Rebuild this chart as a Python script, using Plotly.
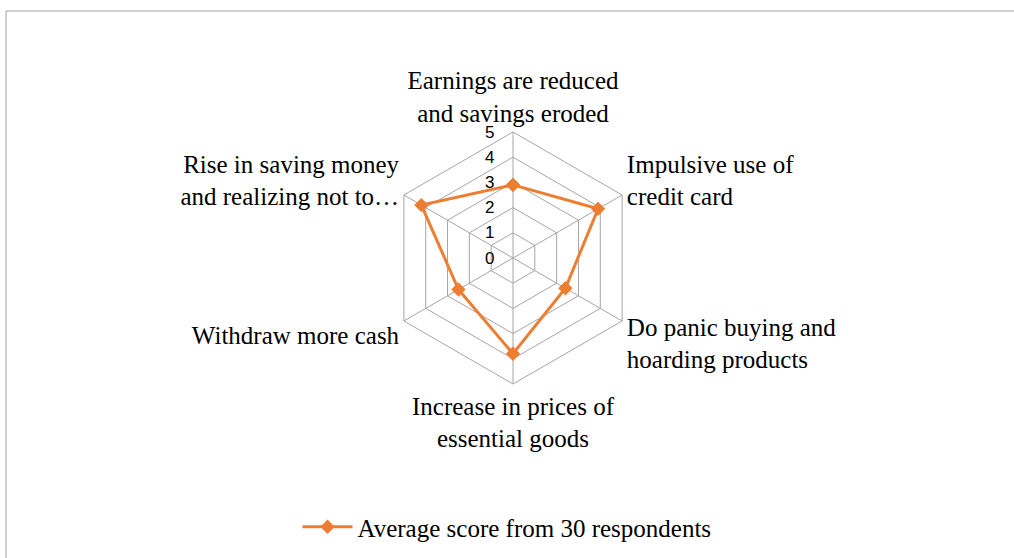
import plotly.graph_objects as go

categories = [
    "Earnings are reduced<br>and savings eroded",
    "Impulsive use of<br>credit card",
    "Do panic buying and<br>hoarding products",
    "Increase in prices of<br>essential goods",
    "Withdraw more cash",
    "Rise in saving money<br>and realizing not to…",
]
values = [2.9, 3.9, 2.4, 3.8, 2.5, 4.2]
series_name = "Average score from 30 respondents"
radial_ticks = [0, 1, 2, 3, 4, 5]

W, H = 1014, 558
cx, cy, R = 513, 258, 126

fig = go.Figure()
fig.add_trace(go.Scatterpolar(
    r=values + values[:1],
    theta=categories + categories[:1],
    mode="lines+markers",
    name=series_name,
    line=dict(color="#ED7D31", width=3),
    marker=dict(symbol="diamond", size=11, color="#ED7D31"),
))

fig.update_layout(
    width=W, height=H,
    margin=dict(l=0, r=0, t=0, b=0, autoexpand=False),
    paper_bgcolor="white",
    plot_bgcolor="white",
    showlegend=True,
    legend=dict(
        orientation="h", x=0.5, xanchor="center", y=1 - 527 / H, yanchor="middle",
        itemwidth=50,
        font=dict(family="Liberation Serif", size=25, color="black"),
    ),
    polar=dict(
        domain=dict(x=[(cx - R) / W, (cx + R) / W], y=[(H - cy - R) / H, (H - cy + R) / H]),
        gridshape="linear",
        bgcolor="white",
        angularaxis=dict(
            direction="clockwise", rotation=90,
            showline=True, linecolor="#a6a6a6", linewidth=1,
            gridcolor="#a6a6a6", gridwidth=1,
            ticks="",
            tickfont=dict(family="Liberation Serif", size=25, color="black"),
        ),
        radialaxis=dict(
            range=[0, 5], tickvals=radial_ticks, angle=90, tickangle=90,
            side="counterclockwise",
            showline=False, gridcolor="#a6a6a6", gridwidth=1,
            ticks="outside", ticklen=12, tickcolor="rgba(0,0,0,0)",
            tickfont=dict(family="Liberation Sans", size=17, color="black"),
        ),
    ),
    shapes=[dict(
        type="rect", xref="paper", yref="paper",
        x0=6 / W, x1=1.02, y0=-0.02, y1=1 - 11 / H,
        line=dict(color="#a0a0a0", width=1), fillcolor="rgba(0,0,0,0)",
    )],
)

fig.write_html(
    "out.html",
    config={"displayModeBar": False},
    post_script="document.body.style.margin='0';",
)
